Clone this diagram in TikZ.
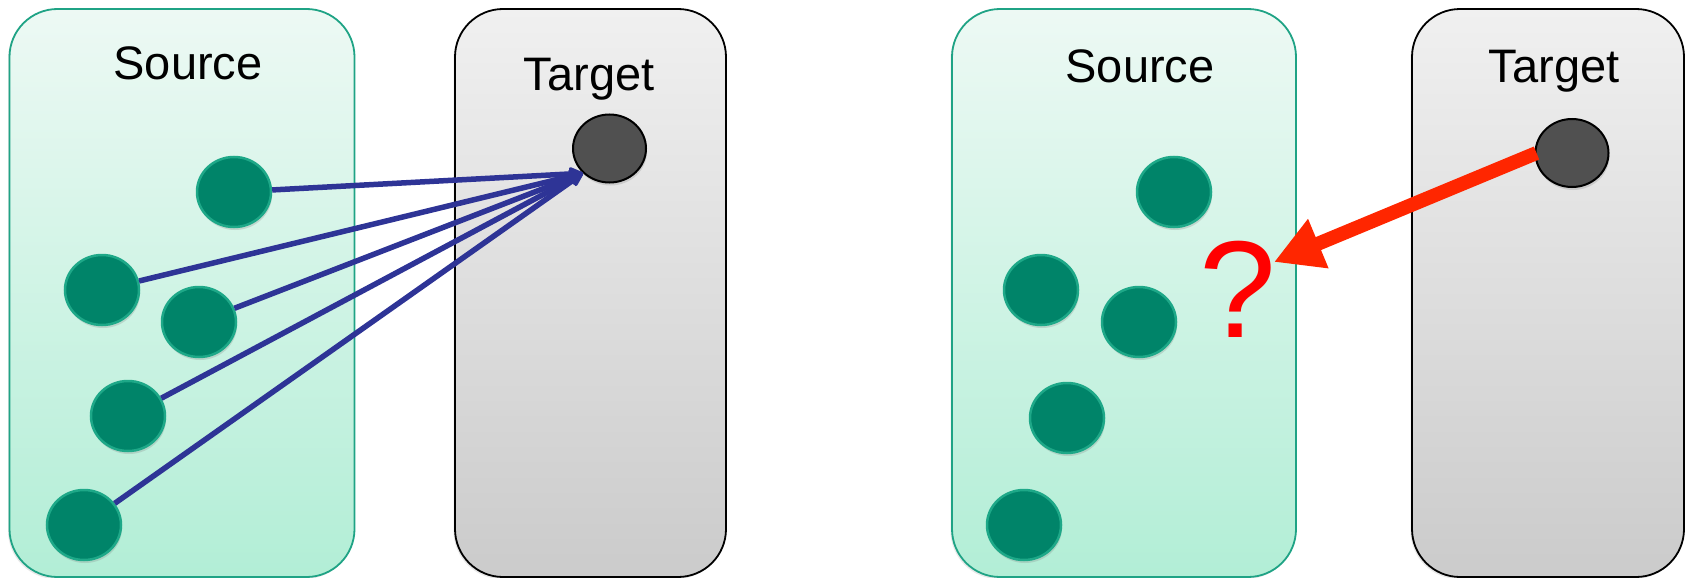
\documentclass[tikz,border=0pt]{standalone}
\usepackage{fontspec}
\setmainfont{Liberation Sans}
\usetikzlibrary{shapes.geometric,arrows.meta,shadows}
\definecolor{srcborder}{RGB}{31,163,133}
\definecolor{srctop}{RGB}{237,249,244}
\definecolor{srcbot}{RGB}{178,238,214}
\definecolor{tgttop}{RGB}{240,240,240}
\definecolor{tgtbot}{RGB}{203,203,203}
\definecolor{dotfill}{RGB}{0,132,105}
\definecolor{dotline}{RGB}{30,168,136}
\definecolor{tdot}{RGB}{80,80,80}
\definecolor{arrblue}{RGB}{46,52,150}
\definecolor{arrred}{RGB}{255,38,0}
\definecolor{qred}{RGB}{255,0,0}
\tikzset{
  panel/.style={rectangle, rounded corners=48pt, minimum height=568pt, inner sep=0pt,
    line width=1.8pt, drop shadow={opacity=0.18, shadow xshift=-1.5pt, shadow yshift=-2pt}},
  srcpanel/.style={panel, draw=srcborder, top color=srctop, bottom color=srcbot},
  tgtpanel/.style={panel, draw=black, top color=tgttop, bottom color=tgtbot},
  ptitle/.style={anchor=base, inner sep=0pt, font=\fontsize{47}{56}\selectfont},
  dot/.style={ellipse, minimum width=74pt, minimum height=70pt, inner sep=0pt,
    fill=dotfill, draw=dotline, line width=2.5pt,
    drop shadow={opacity=0.25, shadow xshift=1pt, shadow yshift=-3pt}},
  tnode/.style={ellipse, minimum width=73pt, minimum height=68pt, inner sep=0pt,
    fill=tdot, draw=black, line width=2pt,
    drop shadow={opacity=0.25, shadow xshift=1pt, shadow yshift=-3pt}},
  bluearrow/.style={draw=arrblue, line width=5.5pt, -{Stealth[length=19pt,width=18pt,round]}},
  redarrow/.style={draw=arrred, fill=arrred, line width=14pt, -{Triangle[length=48pt,width=50pt]}}
}
\begin{document}
\begin{tikzpicture}[x=1pt,y=-1pt]
\useasboundingbox (0,0) rectangle (1687,578);
% left pair
\node[srcpanel, minimum width=345pt] (s1) at (182,293) {};
\node[tgtpanel, minimum width=271pt] (t1box) at (590.5,293) {};
\node[ptitle] (s1lab) at (188,80) {Source};
\node[ptitle] (t1lab) at (589,90) {Target};
\node[dot] (a1) at (234,192) {};
\node[dot] (a2) at (102,290) {};
\node[dot] (a3) at (199,322) {};
\node[dot] (a4) at (128,416) {};
\node[dot] (a5) at (84,525) {};
\node[tnode] (t1) at (609.5,148.5) {};
\foreach \n in {a1,a2,a3,a4,a5}
  \draw[bluearrow] (\n) -- (t1.south west);
% right pair
\node[srcpanel, minimum width=344pt] (s2) at (1124,293) {};
\node[tgtpanel, minimum width=272pt] (t2box) at (1548,293) {};
\node[ptitle] (s2lab) at (1140,82) {Source};
\node[ptitle] (t2lab) at (1554,82) {Target};
\node[dot] (b1) at (1174,192) {};
\node[dot] (b2) at (1041,290) {};
\node[dot] (b3) at (1139,322) {};
\node[dot] (b4) at (1067,418) {};
\node[dot] (b5) at (1024,525) {};
\node[tnode] (t2) at (1572,153) {};
\node[anchor=base, inner sep=0pt, text=qred, font=\fontsize{138}{160}\selectfont] (q) at (1238,337) {?};
\coordinate (qtip) at (1274,262);
\draw[redarrow] ([xshift=2pt]t2.west) -- (qtip);
\end{tikzpicture}
\end{document}
